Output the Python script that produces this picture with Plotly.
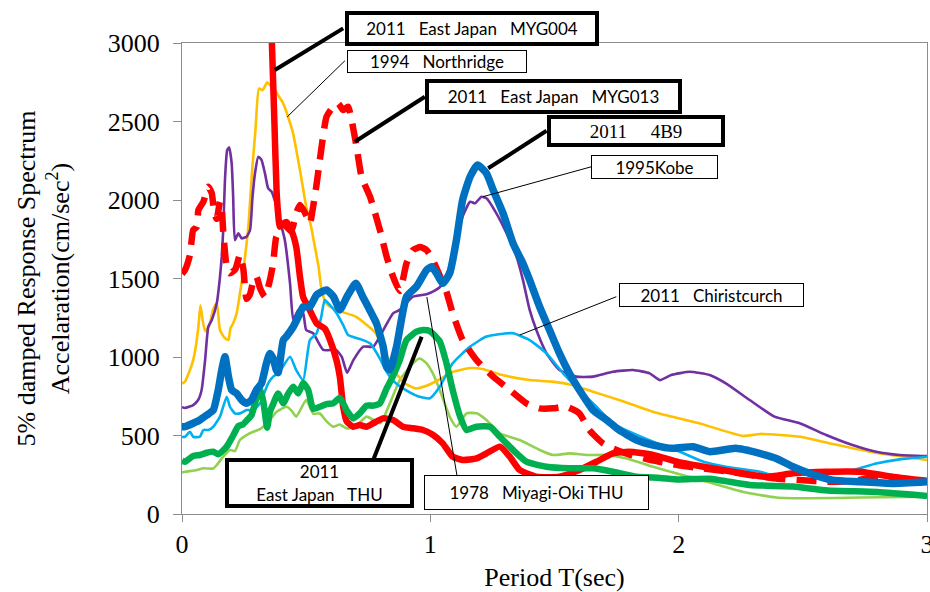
import plotly.graph_objects as go

# Response spectra: (period T [sec], acceleration [cm/sec^2])
northridge_1994 = [
    (0, 830), (0.012, 843), (0.032, 917), (0.045, 980), (0.055, 1060), (0.066, 1193),
    (0.074, 1330), (0.083, 1236), (0.093, 1165), (0.11, 1200), (0.125, 1300), (0.14, 1342),
    (0.153, 1172), (0.173, 1119), (0.187, 1108), (0.195, 1183), (0.206, 1215), (0.22, 1278),
    (0.232, 1390), (0.247, 1554), (0.267, 1830), (0.283, 2200), (0.296, 2450), (0.31, 2710),
    (0.325, 2700), (0.343, 2750), (0.36, 2720), (0.374, 2700), (0.39, 2660), (0.407, 2617),
    (0.425, 2540), (0.447, 2426), (0.475, 2190), (0.50, 1960), (0.52, 1830), (0.535, 1702),
    (0.55, 1575), (0.56, 1448), (0.58, 1342), (0.62, 1300), (0.70, 1257), (0.78, 1152),
    (0.81, 1045), (0.835, 980), (0.86, 900), (0.90, 830), (0.94, 800), (0.99, 820),
    (1.04, 860), (1.09, 905), (1.16, 930), (1.21, 923), (1.29, 885), (1.40, 853),
    (1.49, 843), (1.57, 822), (1.655, 779), (1.76, 726), (1.895, 652), (2.0, 610),
    (2.08, 579), (2.26, 497), (2.33, 510), (2.49, 492), (2.62, 446), (2.795, 390), (3.0, 344),
]

kobe_1995 = [
    (0, 680), (0.012, 675), (0.045, 694), (0.065, 726), (0.079, 790), (0.093, 980),
    (0.106, 1193), (0.12, 1236), (0.14, 1342), (0.153, 1511), (0.16, 1639), (0.166, 1809),
    (0.173, 2127), (0.182, 2318), (0.19, 2335), (0.2, 2234), (0.206, 2021), (0.213, 1745),
    (0.227, 1788), (0.24, 1756), (0.26, 1766), (0.274, 1809), (0.284, 2021), (0.294, 2170),
    (0.307, 2276), (0.32, 2255), (0.334, 2170), (0.347, 2074), (0.361, 2053), (0.375, 1990),
    (0.394, 1872), (0.414, 1745), (0.435, 1469), (0.448, 1236), (0.468, 1300), (0.488, 1278),
    (0.50, 1172), (0.528, 1151), (0.569, 1045), (0.62, 1045), (0.643, 1002), (0.665, 900),
    (0.69, 980), (0.73, 1066), (0.77, 1066), (0.81, 1170), (0.85, 1278), (0.877, 1300),
    (0.93, 1384), (0.985, 1400), (1.01, 1416), (1.04, 1448), (1.078, 1575), (1.105, 1745),
    (1.13, 1894), (1.16, 1989), (1.18, 1979), (1.206, 2021), (1.226, 2011), (1.266, 1915),
    (1.307, 1788), (1.347, 1639), (1.373, 1490), (1.40, 1300), (1.427, 1172), (1.468, 1023),
    (1.52, 917), (1.588, 875), (1.655, 875), (1.735, 906), (1.816, 917), (1.883, 896),
    (1.924, 853), (1.97, 885), (2.044, 906), (2.125, 885), (2.19, 832), (2.286, 726),
    (2.386, 620), (2.487, 578), (2.594, 503), (2.70, 439), (2.795, 397), (2.89, 376), (3.0, 369),
]

christchurch_2011 = [
    (0, 490), (0.012, 492), (0.032, 524), (0.045, 492), (0.072, 492), (0.086, 535),
    (0.106, 535), (0.126, 556), (0.153, 620), (0.18, 747), (0.193, 683), (0.213, 641),
    (0.233, 641), (0.26, 662), (0.287, 662), (0.314, 705), (0.347, 832), (0.367, 875),
    (0.39, 900), (0.435, 1002), (0.46, 917), (0.488, 853), (0.515, 1108), (0.542, 1151),
    (0.56, 1250), (0.575, 1363), (0.596, 1330), (0.622, 1280), (0.65, 1200), (0.669, 1140),
    (0.716, 1115), (0.757, 1087), (0.797, 990), (0.824, 905), (0.85, 850), (0.90, 790),
    (0.95, 750), (0.998, 737), (1.038, 811), (1.09, 960), (1.16, 1066), (1.226, 1130),
    (1.30, 1150), (1.333, 1151), (1.40, 1108), (1.468, 1023), (1.535, 896), (1.60, 790),
    (1.669, 683), (1.735, 578), (1.816, 514), (1.897, 460), (2.0, 400), (2.1, 333),
    (2.19, 301), (2.326, 269), (2.406, 237), (2.487, 259), (2.594, 269), (2.70, 280),
    (2.795, 322), (2.89, 348), (3.0, 365),
]

miyagi_oki_1978_thu = [
    (0, 265), (0.012, 269), (0.06, 280), (0.086, 291), (0.126, 290), (0.14, 312),
    (0.166, 365), (0.193, 408), (0.213, 400), (0.233, 471), (0.26, 503), (0.287, 524),
    (0.314, 540), (0.354, 600), (0.38, 650), (0.421, 683), (0.44, 660), (0.46, 620),
    (0.50, 726), (0.528, 640), (0.555, 640), (0.582, 590), (0.609, 556), (0.635, 570),
    (0.663, 545), (0.70, 560), (0.743, 620), (0.77, 600), (0.80, 580), (0.837, 705),
    (0.877, 853), (0.93, 960), (0.958, 990), (0.985, 960), (1.01, 896), (1.038, 790),
    (1.078, 620), (1.105, 556), (1.146, 641), (1.186, 641), (1.226, 599), (1.28, 514),
    (1.36, 471), (1.44, 408), (1.495, 376), (1.56, 386), (1.63, 376), (1.71, 376),
    (1.79, 354), (1.897, 301), (2.0, 255), (2.125, 200), (2.26, 140), (2.393, 105),
    (2.527, 100), (2.73, 105), (3.0, 110),
]

east_japan_myg013 = [
    (0, 1530), (0.012, 1554), (0.032, 1650), (0.045, 1809), (0.06, 1830), (0.066, 1936),
    (0.086, 1989), (0.106, 2085), (0.12, 2042), (0.13, 1915), (0.14, 1880), (0.153, 1989),
    (0.16, 1950), (0.166, 1800), (0.18, 1575), (0.193, 1533), (0.215, 1560), (0.233, 1650),
    (0.247, 1560), (0.26, 1370), (0.274, 1400), (0.29, 1500), (0.30, 1511), (0.314, 1440),
    (0.334, 1384), (0.354, 1490), (0.367, 1596), (0.38, 1766), (0.40, 1800), (0.421, 1830),
    (0.44, 1800), (0.46, 1915), (0.475, 1968), (0.495, 1920), (0.515, 1851), (0.528, 1957),
    (0.542, 2100), (0.555, 2255), (0.582, 2530), (0.609, 2594), (0.629, 2615), (0.649, 2573),
    (0.669, 2594), (0.683, 2509), (0.703, 2339), (0.723, 2148), (0.757, 2021), (0.77, 1957),
    (0.797, 1809), (0.824, 1639), (0.85, 1511), (0.877, 1420), (0.904, 1596), (0.93, 1681),
    (0.96, 1700), (0.985, 1681), (1.01, 1618), (1.04, 1511), (1.065, 1415), (1.09, 1278),
    (1.13, 1108), (1.186, 980), (1.253, 875), (1.32, 790), (1.387, 705), (1.44, 673),
    (1.495, 673), (1.548, 683), (1.60, 641), (1.64, 535), (1.695, 450), (1.75, 408),
    (1.80, 380), (1.9, 340), (2.0, 310), (2.1, 290), (2.2, 270), (2.3, 245), (2.4, 225),
    (2.5, 215), (2.6, 205), (2.7, 210), (2.8, 235), (2.9, 225), (3.0, 210),
]

east_japan_myg004 = [
    (0.352, 3400), (0.362, 3000), (0.372, 2500), (0.381, 2050), (0.387, 1915), (0.394, 1830),
    (0.408, 1851), (0.421, 1860), (0.44, 1809), (0.46, 1702), (0.475, 1511), (0.488, 1380),
    (0.508, 1320), (0.542, 1215), (0.575, 1180), (0.596, 1108), (0.622, 980), (0.636, 870),
    (0.649, 683), (0.663, 590), (0.69, 556), (0.716, 567), (0.743, 556), (0.77, 578),
    (0.81, 609), (0.85, 599), (0.89, 556), (0.93, 546), (0.97, 535), (1.01, 505),
    (1.05, 450), (1.09, 365), (1.13, 344), (1.186, 354), (1.226, 386), (1.28, 429),
    (1.32, 365), (1.36, 280), (1.427, 237), (1.52, 237), (1.60, 280), (1.669, 333),
    (1.735, 386), (1.80, 397), (1.897, 376), (2.0, 330), (2.1, 301), (2.217, 269),
    (2.353, 237), (2.46, 259), (2.594, 269), (2.73, 269), (2.86, 237), (3.0, 210),
]

east_japan_thu = [
    (0, 340), (0.012, 333), (0.045, 370), (0.072, 376), (0.1, 390), (0.126, 397),
    (0.146, 380), (0.18, 429), (0.206, 500), (0.227, 560), (0.245, 570), (0.26, 595),
    (0.28, 630), (0.30, 740), (0.314, 800), (0.327, 720), (0.343, 550), (0.354, 650),
    (0.367, 700), (0.387, 768), (0.408, 705), (0.428, 768), (0.448, 811), (0.468, 768),
    (0.488, 835), (0.508, 790), (0.528, 670), (0.555, 683), (0.582, 700), (0.609, 705),
    (0.636, 740), (0.663, 660), (0.69, 609), (0.716, 641), (0.743, 690), (0.77, 690),
    (0.797, 705), (0.824, 800), (0.85, 880), (0.877, 980), (0.904, 1108), (0.944, 1161),
    (0.97, 1172), (0.998, 1165), (1.038, 1100), (1.065, 960), (1.09, 790), (1.12, 620),
    (1.146, 535), (1.186, 556), (1.24, 556), (1.28, 492), (1.333, 408), (1.387, 333),
    (1.468, 301), (1.56, 291), (1.655, 291), (1.735, 269), (1.83, 237), (1.924, 230),
    (2.0, 220), (2.125, 225), (2.286, 185), (2.46, 175), (2.6, 150), (2.8, 140), (3.0, 115),
]

kik_4b9_2011 = [
    (0, 555), (0.012, 556), (0.045, 578), (0.072, 599), (0.1, 630), (0.126, 662),
    (0.146, 790), (0.16, 917), (0.173, 1002), (0.187, 875), (0.2, 790), (0.22, 768),
    (0.24, 726), (0.26, 705), (0.28, 726), (0.30, 790), (0.32, 832), (0.34, 960),
    (0.354, 1023), (0.367, 990), (0.38, 917), (0.387, 900), (0.408, 1108), (0.42, 1130),
    (0.448, 1193), (0.475, 1278), (0.488, 1320), (0.515, 1320), (0.542, 1395), (0.582, 1427),
    (0.61, 1384), (0.636, 1300), (0.663, 1380), (0.70, 1469), (0.728, 1384), (0.77, 1257),
    (0.783, 1215), (0.81, 1066), (0.824, 938), (0.837, 917), (0.864, 1066), (0.904, 1384),
    (0.944, 1448), (0.985, 1554), (1.005, 1575), (1.025, 1533), (1.05, 1469), (1.078, 1533),
    (1.105, 1745), (1.13, 2000), (1.16, 2148), (1.19, 2223), (1.226, 2170), (1.253, 2064),
    (1.293, 1915), (1.333, 1724), (1.373, 1596), (1.40, 1490), (1.44, 1320), (1.48, 1172),
    (1.52, 1023), (1.56, 896), (1.60, 790), (1.655, 662), (1.71, 599), (1.76, 535),
    (1.83, 471), (1.897, 439), (1.977, 418), (2.058, 429), (2.125, 397), (2.23, 418),
    (2.326, 386), (2.393, 354), (2.46, 301), (2.527, 259), (2.62, 216), (2.73, 206),
    (2.86, 195), (3.0, 206),
]

# Drawing order: thin records first, thick records on top
series = [
    ("1978 Miyagi-Oki THU", miyagi_oki_1978_thu, "#92D050", 2.6, "solid"),
    ("1994 Northridge", northridge_1994, "#FFC000", 2.6, "solid"),
    ("1995 Kobe", kobe_1995, "#7030A0", 2.6, "solid"),
    ("2011 Christchurch", christchurch_2011, "#00B0F0", 2.6, "solid"),
    ("2011 East Japan MYG013", east_japan_myg013, "#FF0000", 6.5, "20px,11px"),
    ("2011 East Japan MYG004", east_japan_myg004, "#FF0000", 6.5, "solid"),
    ("2011 East Japan THU", east_japan_thu, "#00B050", 6.5, "solid"),
    ("2011 4B9", kik_4b9_2011, "#0070C0", 7.5, "solid"),
]

fig = go.Figure()
for name, pts, color, width, dash in series:
    fig.add_trace(go.Scatter(
        x=[p[0] for p in pts], y=[p[1] for p in pts], name=name, mode="lines",
        line=dict(color=color, width=width, dash=dash, shape="spline", smoothing=0.5),
    ))

X_MAX, Y_MAX = 3.0, 3000.0

# Callout boxes: text, box centre (T, A), box size (px), thick border?, serif?, leader line (T, A) -> (T, A)
callouts = [
    ("2011\u00a0\u00a0\u00a0East Japan\u00a0\u00a0\u00a0MYG004", (1.167, 3092), (250, 31), True, False,
     ((0.649, 3093), (0.374, 2828))),
    ("1994\u00a0\u00a0\u00a0Northridge", (1.028, 2885), (179, 22), False, False,
     ((0.656, 2887), (0.424, 2530))),
    ("2011\u00a0\u00a0\u00a0East Japan\u00a0\u00a0\u00a0MYG013", (1.495, 2659), (253, 31), True, False,
     ((0.978, 2658), (0.696, 2371))),
    ("2011\u3000 4B9", (1.827, 2439), (174, 28), True, True,
     ((1.468, 2441), (1.233, 2202))),
    ("1995Kobe", (1.903, 2213), (126, 23), False, False,
     ((1.649, 2212), (1.212, 2021))),
    ("2011\u00a0\u00a0\u00a0Chiristcurch", (2.133, 1392), (184, 23), False, False,
     ((1.749, 1384), (1.36, 1140))),
    ("2011<br>East Japan\u00a0\u00a0\u00a0THU", (0.553, 197), (185, 46), True, False,
     ((0.77, 344), (0.965, 1129))),
    ("1978\u00a0\u00a0\u00a0Miyagi-Oki THU", (1.429, 134), (224, 34), False, False,
     ((1.107, 248), (0.986, 1382))),
]

for text, (cx, cy), (w, h), thick, serif, ((x0, y0), (x1, y1)) in callouts:
    bw = 4 if thick else 1
    fig.add_shape(
        type="line", xref="paper", yref="paper",
        x0=x0 / X_MAX, y0=y0 / Y_MAX, x1=x1 / X_MAX, y1=y1 / Y_MAX,
        line=dict(color="black", width=4 if thick else 1),
    )
    fig.add_annotation(
        x=cx / X_MAX, y=cy / Y_MAX, xref="paper", yref="paper",
        xanchor="center", yanchor="middle", text=text, showarrow=False,
        width=w - bw, height=h - bw, borderpad=0, borderwidth=bw,
        bordercolor="black", bgcolor="white", align="center", valign="middle",
        font=dict(family="Liberation Serif" if serif else "Lato",
                  size=19 if serif else 17, color="black"),
    )

axis_line = "#8C8C8C"
fig.update_layout(
    width=930, height=592,
    margin=dict(l=182, r=3, t=43, b=78),
    paper_bgcolor="white", plot_bgcolor="white",
    showlegend=False,
    font=dict(family="Liberation Serif", size=26, color="black"),
    xaxis=dict(
        range=[0, 3], dtick=1, tick0=0, showgrid=False, zeroline=False,
        showline=True, linecolor=axis_line, linewidth=1.3, mirror=True,
        ticks="outside", ticklen=7, tickcolor=axis_line, tickwidth=1.3,
        ticklabeloverflow="allow", automargin=False,
        title=dict(text="Period T(sec)", standoff=10,
                   font=dict(family="Liberation Serif", size=26)),
        tickfont=dict(size=26),
    ),
    yaxis=dict(
        range=[0, 3000], dtick=500, tick0=0, showgrid=False, zeroline=False,
        showline=True, linecolor=axis_line, linewidth=1.3, mirror=True,
        ticks="outside", ticklen=8, tickcolor=axis_line, tickwidth=1.3,
        ticklabelstandoff=8, automargin=False,
        title=dict(text="5% damped Response Spectrum<br>Accelaration(cm/sec<sup>2</sup>)",
                   standoff=30, font=dict(family="Liberation Serif", size=26)),
        tickfont=dict(size=26),
    ),
)

fig.write_html("out.html")
